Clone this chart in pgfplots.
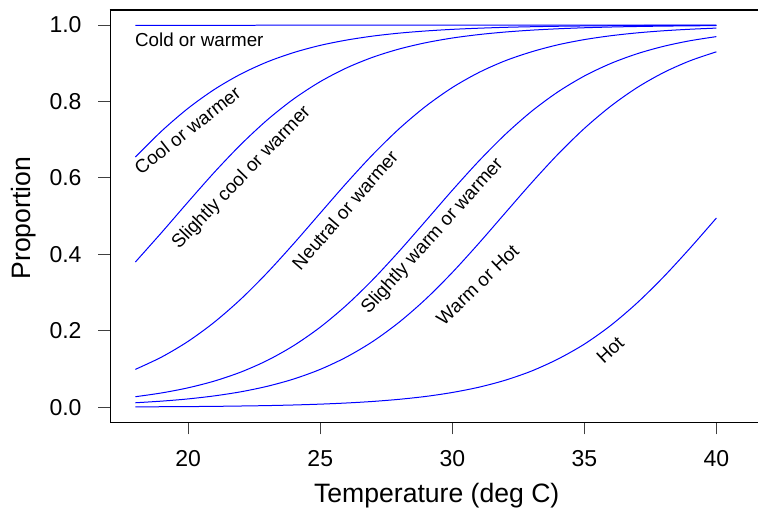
\documentclass[border=0pt]{standalone}
\usepackage{fontspec}
\setmainfont{Liberation Sans}
\usepackage{pgfplots}
\pgfplotsset{compat=1.18}
\begin{document}
\begin{tikzpicture}
\path (-110.1pt,-104.3pt) rectangle (648.4pt,422.7pt);
\begin{axis}[
  at={(0pt,0pt)}, anchor=south west,
  scale only axis, width=648.4pt, height=412.9pt,
  xmin=17.04, xmax=41.58, ymin=-0.04, ymax=1.04,
  axis lines*=left,
  xtick={20,25,30,35,40}, ytick={0,0.2,0.4,0.6,0.8,1.0},
  tick align=outside, major tick length=12pt,
  axis line style={black, line width=1pt, -},
  every tick/.style={black!75, line width=1pt},
  /pgf/number format/assume math mode=true,
  yticklabel style={/pgf/number format/fixed, /pgf/number format/fixed zerofill, /pgf/number format/precision=1, xshift=-13pt},
  ticklabel style={font=\fontsize{23}{27}\selectfont},
  xticklabel style={yshift=-12pt},
  xlabel={Temperature (deg C)}, ylabel={Proportion},
  label style={font=\fontsize{26.6}{30}\selectfont},
  xlabel style={at={(axis description cs:0.5041,-0.1935)}, anchor=base},
  ylabel style={at={(axis description cs:-0.1231,0.495)}, anchor=base},
  clip=false,
]
\addplot[blue, line width=1pt, smooth] coordinates {(18,0.9990)(20,0.9993)(22,0.9995)(25,0.9997)(30,0.9998)(35,0.9999)(40,1.0000)};
\addplot[blue, line width=1pt, smooth] coordinates {(18,0.6548)(19,0.7231)(20,0.7825)(21,0.8320)(22,0.8721)(23,0.9038)(24,0.9282)(25,0.9469)(26,0.9608)(27,0.9713)(28,0.9790)(29,0.9846)(30,0.9888)(31,0.9918)(32,0.9941)(33,0.9957)(34,0.9969)(35,0.9977)(36,0.9983)(37,0.9988)(38,0.9991)(39,0.9994)(40,0.9995)};
\addplot[blue, line width=1pt, smooth] coordinates {(18,0.3800)(19,0.4577)(20,0.5375)(21,0.6155)(22,0.6879)(23,0.7522)(24,0.8070)(25,0.8520)(26,0.8880)(27,0.9161)(28,0.9376)(29,0.9539)(30,0.9661)(31,0.9751)(32,0.9818)(33,0.9867)(34,0.9903)(35,0.9930)(36,0.9949)(37,0.9963)(38,0.9973)(39,0.9980)(40,0.9986)};
\addplot[blue, line width=1pt, smooth] coordinates {(18,0.0990)(19,0.1315)(20,0.1725)(21,0.2231)(22,0.2833)(23,0.3525)(24,0.4285)(25,0.5080)(26,0.5871)(27,0.6620)(28,0.7295)(29,0.7878)(30,0.8365)(31,0.8757)(32,0.9065)(33,0.9300)(34,0.9484)(35,0.9620)(36,0.9721)(37,0.9796)(38,0.9851)(39,0.9891)(40,0.9921)};
\addplot[blue, line width=1pt, smooth] coordinates {(18,0.0274)(19,0.0374)(20,0.0508)(21,0.0686)(22,0.0921)(23,0.1226)(24,0.1614)(25,0.2095)(26,0.2674)(27,0.3345)(28,0.4091)(29,0.4880)(30,0.5676)(31,0.6438)(32,0.7134)(33,0.7742)(34,0.8252)(35,0.8667)(36,0.8995)(37,0.9250)(38,0.9444)(39,0.9590)(40,0.9698)};
\addplot[blue, line width=1pt, smooth] coordinates {(18,0.0116)(19,0.0159)(20,0.0217)(21,0.0297)(22,0.0404)(23,0.0548)(24,0.0739)(25,0.0990)(26,0.1315)(27,0.1725)(28,0.2231)(29,0.2833)(30,0.3525)(31,0.4285)(32,0.5080)(33,0.5871)(34,0.6620)(35,0.7295)(36,0.7878)(37,0.8365)(38,0.8757)(39,0.9065)(40,0.9300)};
\addplot[blue, line width=1pt, smooth] coordinates {(18,0.0009)(19,0.0012)(20,0.0016)(21,0.0022)(22,0.0031)(23,0.0042)(24,0.0058)(25,0.0080)(26,0.0110)(27,0.0151)(28,0.0207)(29,0.0282)(30,0.0385)(31,0.0522)(32,0.0705)(33,0.0946)(34,0.1260)(35,0.1650)(36,0.2140)(37,0.2730)(38,0.3410)(39,0.4160)(40,0.4950)};
\begin{scope}[every node/.style={font=\fontsize{18.8}{22}\selectfont, anchor=base west, inner sep=0pt}]
\node at (axis cs:17.98,0.943) {Cold or warmer};
\node[rotate=38] at (axis cs:18.20,0.607) {Cool or warmer};
\node[rotate=46] at (axis cs:19.65,0.412) {Slightly cool or warmer};
\node[rotate=49] at (axis cs:24.25,0.356) {Neutral or warmer};
\node[rotate=48] at (axis cs:26.84,0.242) {Slightly warm or warmer};
\node[rotate=44] at (axis cs:29.68,0.212) {Warm or Hot};
\node[rotate=43] at (axis cs:35.73,0.111) {Hot};
\end{scope}
\end{axis}
\draw[black, line width=1.8pt] (-0.5pt,412.9pt) -- (648.4pt,412.9pt);
\end{tikzpicture}
\end{document}
